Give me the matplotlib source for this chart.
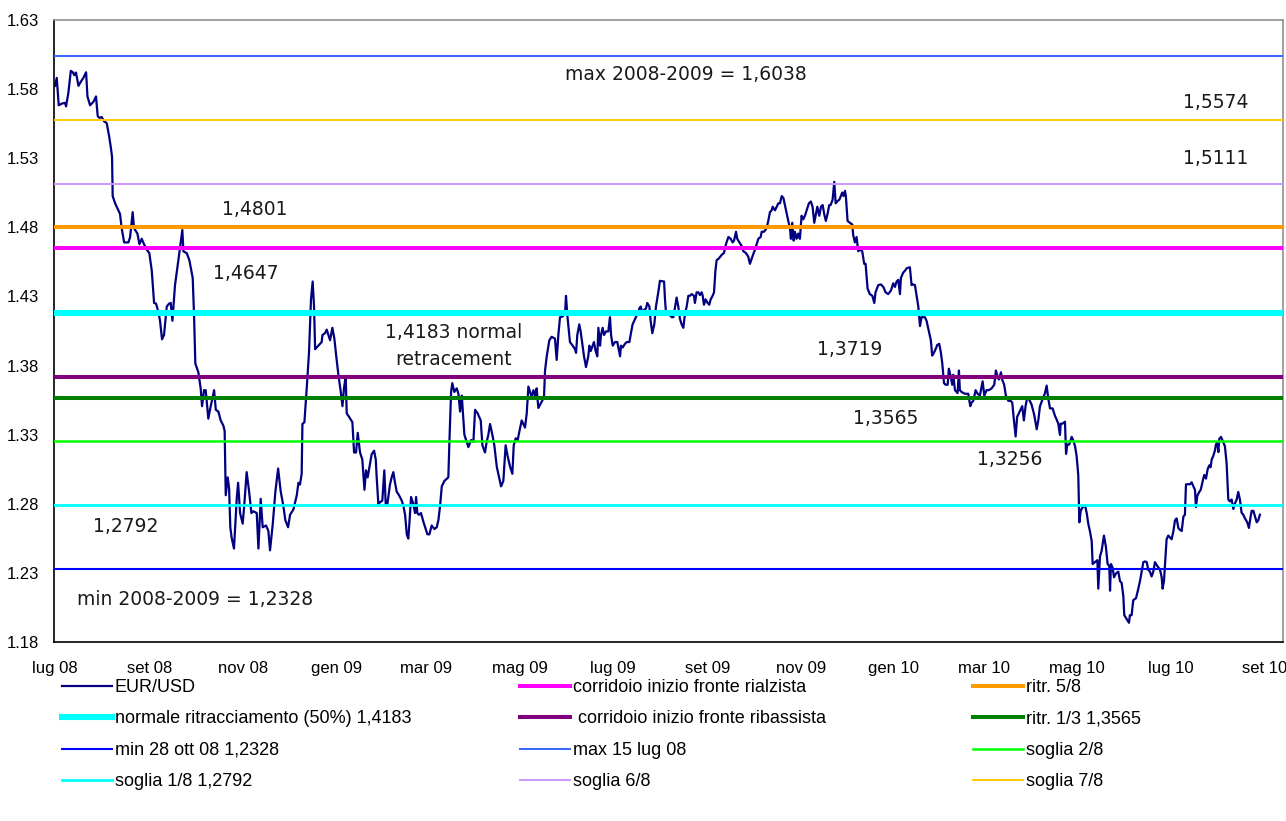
import matplotlib
matplotlib.use("Agg")
import matplotlib.pyplot as plt
import pandas as pd

START = pd.Timestamp("2008-07-01")

# EUR/USD: days after START and exchange rate
DAYS = [
    0.0, 1.1, 2.4, 4.4, 6.5, 7.2, 8.7, 10.3, 11.6, 12.6,
    13.7, 15.3, 17.4, 18.5, 20.3, 21.2, 22.9, 25.1, 26.8, 27.9,
    29.0, 30.5, 32.1, 33.8, 35.3, 36.4, 37.3, 37.7, 39.3, 41.4,
    42.5, 43.6, 45.2, 48.0, 49.1, 49.7, 50.8, 51.7, 53.9, 55.2,
    56.7, 58.2, 60.0, 61.7, 63.3, 64.8, 66.1, 67.6, 68.7, 70.0,
    71.3, 72.0, 73.1, 74.6, 75.7, 76.8, 78.5, 80.7, 82.2, 83.3,
    84.0, 86.2, 87.9, 90.1, 91.0, 91.8, 93.8, 95.3, 96.2, 97.5,
    98.6, 100.3, 101.4, 102.9, 104.1, 105.2, 106.9, 108.4, 110.2, 111.0,
    111.7, 113.0, 113.9, 114.7, 115.6, 117.1, 118.9, 119.8, 121.1, 122.8,
    123.7, 125.4, 127.0, 128.5, 129.8, 132.0, 133.1, 134.6, 135.9, 138.1,
    139.6, 140.7, 142.5, 144.2, 146.0, 147.7, 149.4, 150.7, 152.5, 153.8,
    156.0,
    158.2, 159.3, 160.3, 161.4, 161.9, 163.2, 164.7, 166.2, 167.5, 168.6,
    169.5, 170.2, 172.3, 174.5, 175.0, 176.7, 177.8, 178.9, 180.0, 181.5,
    182.8, 184.3, 185.4, 187.0, 188.1, 189.1, 190.2, 190.9, 192.4, 194.6,
    195.7, 197.0, 198.1, 199.6, 201.1, 202.5, 203.5, 204.6, 206.2, 207.2,
    208.8, 209.9, 210.5, 211.6, 212.7, 214.2, 215.5, 216.4, 217.5, 219.2,
    220.3, 221.4, 222.5, 223.6, 225.1, 226.9, 228.0, 229.1, 230.2, 231.2,
    231.9, 233.0, 234.5, 235.6, 236.3, 237.1, 238.2, 239.5, 241.1, 242.6,
    243.7, 245.0, 246.5, 248.3, 249.8, 250.9, 252.0, 253.1, 254.8, 257.4,
    258.1, 259.2, 260.0, 261.3, 262.9, 264.0, 265.1, 266.2, 267.9, 269.4,
    270.5, 272.3, 273.8, 274.9, 276.6, 278.6, 279.7, 281.4, 282.5, 283.6,
    284.7, 286.2, 287.5, 289.1, 290.6, 291.9, 293.4, 294.9, 296.2, 297.8,
    299.3, 300.2, 301.5, 302.8, 303.7, 305.4, 306.5, 307.6, 308.7, 309.8,
    310.9, 312.0, 313.1, 314.2, 315.2, 316.3,
    320.0, 320.7, 321.8, 323.5, 325.0, 327.2, 328.3, 329.4, 330.5, 332.2,
    333.8, 334.4, 335.3, 337.0, 338.8, 340.3, 341.0, 341.8, 343.1, 344.0,
    345.3, 346.2, 347.5, 349.0, 349.7, 350.6, 351.9, 352.7, 353.8, 354.9,
    355.6, 356.7, 357.3, 358.4, 359.3, 360.6, 362.1, 363.2, 363.9, 365.0,
    366.5, 368.0, 369.8, 370.4, 371.5, 373.0, 374.1, 375.9, 376.7, 378.0,
    379.1, 380.7, 381.8, 382.4, 383.3, 384.6, 385.5, 386.8, 387.6, 389.0,
    389.8, 390.9, 392.2, 393.3, 394.8, 395.9, 398.6, 399.2, 399.9, 401.4,
    402.5, 403.6, 404.7, 405.8, 406.8, 407.9, 409.0, 410.1, 411.2, 412.3,
    413.4, 414.5, 415.6, 416.7, 418.2, 418.8, 419.9, 421.0, 422.1, 423.2,
    423.9, 424.7, 425.8, 427.1, 428.2, 429.1, 430.4, 431.3, 432.2, 433.0,
    434.5, 436.3, 437.8, 439.1, 440.7, 442.2, 443.5, 444.4, 445.7, 446.5,
    447.9, 449.4, 450.5, 452.2, 453.7, 454.8, 456.4, 458.1, 459.2, 460.3,
    461.8, 462.5, 464.0, 465.7, 466.8, 467.9, 469.0, 469.7, 471.2, 472.3,
    473.4, 474.5, 475.6, 476.7,
    479.9, 481.0, 481.6, 482.5, 483.4, 484.2, 485.3, 486.4, 487.5, 488.6,
    489.7, 490.8, 491.9, 493.4, 494.7, 495.8, 496.9, 498.0, 498.9, 500.2,
    501.3, 502.4, 503.4, 504.5, 505.6, 506.7, 507.6, 508.9, 510.0, 510.9,
    511.9, 513.3, 514.3, 515.2, 516.1, 517.0, 517.6, 518.7, 520.2, 521.8,
    522.4, 523.5, 524.6, 525.7, 526.8, 528.3, 529.6, 530.5, 531.8, 533.3,
    534.9, 536.2, 537.0, 538.8, 540.5, 542.1, 543.6, 545.3, 547.1, 548.6,
    549.7, 550.8, 551.9, 553.0, 553.6, 555.1, 556.2, 557.5, 559.5, 560.6,
    561.7, 562.8, 563.9, 565.0, 566.1, 567.1, 569.3, 570.4, 571.9, 573.2,
    574.1, 575.2, 576.3, 577.4, 578.7, 579.8, 580.7, 581.8, 582.9, 584.2,
    585.0, 586.1, 587.2, 587.9, 589.0, 590.7, 591.6, 592.2, 593.3, 595.5,
    597.7, 599.0, 599.9, 601.0, 602.5, 603.8, 605.3, 607.1, 608.2, 609.7,
    611.2, 613.0, 614.7, 615.8, 616.7, 617.7, 619.1, 619.9, 621.2, 622.3,
    623.9, 625.4, 626.5, 627.6, 628.7, 629.7, 630.8, 631.9, 633.0, 634.1,
    635.2, 636.3, 637.4, 639.1, 640.9,
    642.5, 643.6, 644.6, 646.4, 647.9, 649.0, 650.1, 651.2, 652.9, 654.5,
    655.6, 656.6, 657.7, 658.2, 659.5, 661.0, 661.7, 662.5, 663.8, 665.4,
    666.5, 667.6, 668.6, 669.7, 670.4, 671.3, 672.6, 674.1, 675.2, 676.3,
    677.4, 678.5, 679.1, 680.6, 682.2, 682.8, 683.9, 685.0, 686.5, 687.8,
    688.9, 690.0, 690.5, 691.1, 692.2, 693.1, 694.4, 695.9, 697.0, 698.1,
    699.2, 699.8, 701.4, 702.9, 703.5, 704.6, 705.7, 707.5, 709.0, 710.1,
    711.2, 712.3, 713.4, 714.5, 715.5, 716.6, 717.7, 718.8, 719.9, 721.4,
    723.2, 724.3, 724.9, 725.8, 726.5, 727.5, 728.6, 729.7, 730.8, 731.9,
    733.0, 734.1, 735.2, 736.3, 737.4, 738.5, 739.5, 740.2, 741.7, 742.8,
    743.9, 745.0, 746.1, 746.7, 747.6, 748.9, 749.8, 750.4, 751.5, 752.2,
    753.3, 754.4, 755.5, 756.3, 757.0, 758.1, 759.2, 759.8, 760.7, 761.4,
    762.0, 763.1, 764.2, 765.7, 766.8, 767.9, 769.0, 770.1, 771.2, 772.3,
    773.4, 774.4, 775.5, 776.6, 777.7, 778.8, 780.3, 781.4, 782.5, 783.2,
    784.3, 785.4, 786.5, 787.5, 788.6,
]
EURUSD = [
    1.5824, 1.5881, 1.5683, 1.5695, 1.5701, 1.5675, 1.5773, 1.5932, 1.5922, 1.5901,
    1.5920, 1.5824, 1.5863, 1.5881, 1.5922, 1.5747, 1.5683, 1.5708, 1.5747, 1.5605,
    1.5592, 1.5598, 1.5567, 1.5554, 1.5464, 1.5386, 1.5309, 1.5026, 1.4974, 1.4923,
    1.4897, 1.4794, 1.4691, 1.4691, 1.4729, 1.4794, 1.4910, 1.4794, 1.4755, 1.4678,
    1.4717, 1.4678, 1.4639, 1.4613, 1.4485, 1.4253, 1.4248, 1.4189, 1.4124, 1.3990,
    1.4021, 1.4098, 1.4227, 1.4248, 1.4253, 1.4124, 1.4382, 1.4562, 1.4691, 1.4781,
    1.4626, 1.4613, 1.4562, 1.4433, 1.4150, 1.3815, 1.3751, 1.3635, 1.3506, 1.3622,
    1.3622, 1.3416, 1.3480, 1.3557, 1.3622, 1.3480, 1.3467, 1.3403, 1.3364, 1.3325,
    1.2862, 1.2991, 1.2913, 1.2630, 1.2553, 1.2476, 1.2836, 1.2952, 1.2733, 1.2656,
    1.2772, 1.3029, 1.2888, 1.2733, 1.2746, 1.2733, 1.2476, 1.2836, 1.2630, 1.2643,
    1.2604, 1.2463, 1.2656, 1.2888, 1.3055, 1.2888, 1.2785, 1.2682, 1.2630, 1.2720,
    1.2759,
    1.2862, 1.2952, 1.2939, 1.3017, 1.3377, 1.3390, 1.3635, 1.3892, 1.4279, 1.4408,
    1.4227, 1.3918, 1.3944, 1.3970, 1.4021, 1.4034, 1.4060, 1.4021, 1.3983, 1.4073,
    1.3995, 1.3841, 1.3738, 1.3609, 1.3506, 1.3635, 1.3725, 1.3454, 1.3429, 1.3390,
    1.3171, 1.3171, 1.3313, 1.3171, 1.3120, 1.2901, 1.3042, 1.2991, 1.3094, 1.3158,
    1.3184, 1.3120, 1.2991, 1.2798, 1.2811, 1.2823, 1.3042, 1.2798, 1.2798, 1.2939,
    1.2991, 1.3029, 1.2952, 1.2888, 1.2862, 1.2823, 1.2785, 1.2720, 1.2579, 1.2548,
    1.2656, 1.2849, 1.2798, 1.2733, 1.2849, 1.2733, 1.2720, 1.2733, 1.2669, 1.2617,
    1.2579, 1.2579, 1.2643, 1.2617, 1.2630, 1.2682, 1.2785, 1.2926, 1.2965, 1.2991,
    1.3248, 1.3609, 1.3673, 1.3609, 1.3635, 1.3596, 1.3467, 1.3583, 1.3300, 1.3248,
    1.3210, 1.3261, 1.3248, 1.3480, 1.3454, 1.3403, 1.3223, 1.3171, 1.3248, 1.3300,
    1.3377, 1.3300, 1.3223, 1.3068, 1.2991, 1.2926, 1.2965, 1.3223, 1.3145, 1.3068,
    1.3017, 1.3223, 1.3274, 1.3261, 1.3313, 1.3403, 1.3377, 1.3351, 1.3454, 1.3648,
    1.3609, 1.3570, 1.3622, 1.3583, 1.3635, 1.3493,
    1.3570, 1.3764, 1.3867, 1.3983, 1.4008, 1.3995, 1.3841, 1.4021, 1.4150, 1.4155,
    1.4176, 1.4304, 1.4163, 1.3970, 1.3944, 1.3918, 1.3892, 1.4021, 1.4098, 1.4047,
    1.3944, 1.3867, 1.3789, 1.3867, 1.3944, 1.3905, 1.3944, 1.3970, 1.3905, 1.3867,
    1.4073, 1.3944, 1.4021, 1.4073, 1.4021, 1.4047, 1.4047, 1.4150, 1.4021, 1.3944,
    1.3970, 1.3970, 1.3867, 1.3944, 1.3931, 1.3957, 1.3970, 1.3970, 1.4021, 1.4098,
    1.4124, 1.4163, 1.4176, 1.4214, 1.4227, 1.4176, 1.4202, 1.4214, 1.4253, 1.4227,
    1.4124, 1.4034, 1.4098, 1.4227, 1.4330, 1.4413, 1.4408, 1.4279, 1.4176, 1.4176,
    1.4163, 1.4150, 1.4150, 1.4227, 1.4292, 1.4227, 1.4137, 1.4098, 1.4073, 1.4176,
    1.4227, 1.4305, 1.4305, 1.4317, 1.4305, 1.4253, 1.4330, 1.4330, 1.4310, 1.4330,
    1.4305, 1.4240, 1.4279, 1.4253, 1.4240, 1.4279, 1.4305, 1.4330, 1.4485, 1.4562,
    1.4575, 1.4601, 1.4614, 1.4678, 1.4730, 1.4717, 1.4691, 1.4704, 1.4768, 1.4717,
    1.4691, 1.4665, 1.4627, 1.4614, 1.4588, 1.4536, 1.4588, 1.4639, 1.4678, 1.4717,
    1.4730, 1.4768, 1.4768, 1.4794, 1.4846, 1.4910, 1.4923, 1.4949, 1.4923, 1.4949,
    1.4974, 1.4974, 1.5026, 1.5013,
    1.4846, 1.4794, 1.4717, 1.4833, 1.4704, 1.4768, 1.4717, 1.4755, 1.4717, 1.4884,
    1.4858, 1.4884, 1.4923, 1.4974, 1.4987, 1.4949, 1.4833, 1.4897, 1.4949, 1.4884,
    1.4949, 1.4961, 1.4897, 1.4846, 1.4897, 1.4961, 1.4961, 1.5000, 1.5129, 1.4974,
    1.4987, 1.5000, 1.5026, 1.5052, 1.5026, 1.5064, 1.5026, 1.4846, 1.4833, 1.4820,
    1.4743, 1.4691, 1.4730, 1.4627, 1.4639, 1.4627, 1.4536, 1.4536, 1.4356, 1.4317,
    1.4305, 1.4253, 1.4330, 1.4382, 1.4387, 1.4369, 1.4330, 1.4317, 1.4343, 1.4395,
    1.4369, 1.4408, 1.4420, 1.4317, 1.4433, 1.4472, 1.4485, 1.4505, 1.4511, 1.4382,
    1.4387, 1.4382, 1.4305, 1.4227, 1.4086, 1.4150, 1.4150, 1.4124, 1.4047, 1.3983,
    1.3872, 1.3892, 1.3918, 1.3949, 1.3957, 1.3892, 1.3815, 1.3673, 1.3661, 1.3661,
    1.3777, 1.3725, 1.3661, 1.3733, 1.3622, 1.3601, 1.3764, 1.3622, 1.3609, 1.3596,
    1.3596, 1.3506, 1.3532, 1.3545, 1.3622, 1.3596, 1.3583, 1.3686, 1.3583, 1.3622,
    1.3622, 1.3635, 1.3661, 1.3764, 1.3725, 1.3699, 1.3751, 1.3699, 1.3661, 1.3583,
    1.3545, 1.3545, 1.3532, 1.3403, 1.3287, 1.3429, 1.3454, 1.3480, 1.3506, 1.3403,
    1.3506, 1.3570, 1.3558, 1.3519, 1.3442,
    1.3339, 1.3408, 1.3504, 1.3559, 1.3600, 1.3655, 1.3559, 1.3490, 1.3490, 1.3435,
    1.3408, 1.3380, 1.3298, 1.3380, 1.3380, 1.3394, 1.3161, 1.3229, 1.3229, 1.3284,
    1.3257, 1.3215, 1.3147, 1.3009, 1.2666, 1.2749, 1.2776, 1.2790, 1.2735, 1.2653,
    1.2598, 1.2529, 1.2364, 1.2378, 1.2392, 1.2186, 1.2419, 1.2460, 1.2570, 1.2488,
    1.2364, 1.2350, 1.2171, 1.2364, 1.2337, 1.2268, 1.2296, 1.2309, 1.2241, 1.2227,
    1.2131, 1.1994, 1.1966, 1.1939, 1.1994, 1.1994, 1.2103, 1.2117, 1.2186, 1.2241,
    1.2309, 1.2378, 1.2383, 1.2378, 1.2323, 1.2309, 1.2274, 1.2309, 1.2378, 1.2350,
    1.2323, 1.2268, 1.2186, 1.2241, 1.2364, 1.2543, 1.2570, 1.2556, 1.2543, 1.2598,
    1.2680, 1.2694, 1.2625, 1.2611, 1.2603, 1.2707, 1.2721, 1.2941, 1.2941, 1.2941,
    1.2955, 1.2927, 1.2900, 1.2776, 1.2858, 1.2886, 1.2900, 1.2927, 1.2982, 1.3009,
    1.2982, 1.3051, 1.3078, 1.3064, 1.3119, 1.3147, 1.3188, 1.3229, 1.3243, 1.3174,
    1.3270, 1.3284, 1.3257, 1.3215, 1.3092, 1.2831, 1.2817, 1.2831, 1.2762, 1.2804,
    1.2831, 1.2886, 1.2831, 1.2735, 1.2721, 1.2694, 1.2666, 1.2625, 1.2707, 1.2749,
    1.2749, 1.2707, 1.2666, 1.2680, 1.2721,
]
assert len(DAYS) == len(EURUSD)

# horizontal reference levels
LEVEL_NAMES = [
    "corridoio inizio fronte rialzista", "ritr. 5/8",
    "normale ritracciamento (50%) 1,4183", " corridoio inizio fronte ribassista",
    "ritr. 1/3 1,3565", "min 28 ott 08 1,2328", "max 15 lug 08", "soglia 2/8",
    "soglia 1/8 1,2792", "soglia 6/8", "soglia 7/8",
]
LEVEL_VALUES = [1.4647, 1.4801, 1.4183, 1.3719, 1.3565, 1.2328, 1.6038, 1.3256,
                1.2792, 1.5111, 1.5574]
LEVEL_COLORS = ["#ff00ff", "#ff9900", "#00ffff", "#800080", "#008000", "#0000ff",
                "#3366ff", "#00ff00", "#00ffff", "#cc99ff", "#ffcc00"]
LEVEL_WIDTHS = [2.9, 2.9, 4.4, 2.9, 2.9, 1.5, 1.4, 1.8, 2.0, 1.4, 1.4]

TICK_LABELS = ["lug 08", "set 08", "nov 08", "gen 09", "mar 09", "mag 09", "lug 09",
               "set 09", "nov 09", "gen 10", "mar 10", "mag 10", "lug 10", "set 10"]
Y_TICKS = [1.18, 1.23, 1.28, 1.33, 1.38, 1.43, 1.48, 1.53, 1.58, 1.63]

NOTES = ["max 2008-2009 = 1,6038", "1,5574", "1,5111", "1,4801", "1,4647",
         "1,4183 normal\nretracement", "1,3719", "1,3565", "1,3256", "1,2792",
         "min 2008-2009 = 1,2328"]
# text anchor in axes fraction (x, y, ha)
NOTE_POS = [(0.416, 0.913, "left"), (0.919, 0.868, "left"), (0.919, 0.777, "left"),
            (0.137, 0.695, "left"), (0.129, 0.593, "left"), (0.325, 0.476, "center"),
            (0.621, 0.471, "left"), (0.650, 0.359, "left"), (0.751, 0.293, "left"),
            (0.032, 0.185, "left"), (0.019, 0.069, "left")]

SANS = "Liberation Sans"

fig = plt.figure(figsize=(12.86, 8.21), dpi=100)
ax = fig.add_axes([54 / 1286, 1 - 642 / 821, 1229 / 1286, 622 / 821])

dates = START + pd.to_timedelta(DAYS, unit="D")
series = ax.plot(dates, EURUSD, color="#000080", lw=1.6, label="EUR/USD", zorder=2)[0]
handles = {"EUR/USD": series}
for name, value, color, lw in zip(LEVEL_NAMES, LEVEL_VALUES, LEVEL_COLORS, LEVEL_WIDTHS):
    handles[name] = ax.axhline(value, color=color, lw=lw, label=name, zorder=3)

ax.set_xlim(START - pd.Timedelta(days=0.7), START + pd.Timedelta(days=803.7))
ax.set_ylim(Y_TICKS[0], Y_TICKS[-1])
ax.set_yticks(Y_TICKS)
ax.set_yticklabels([f"{v:.2f}" for v in Y_TICKS], family=SANS, fontsize=12)
ax.set_xticks(pd.date_range(START, periods=len(TICK_LABELS), freq="2MS"))
ax.set_xticklabels(TICK_LABELS, family=SANS, fontsize=12)
ax.tick_params(axis="y", length=0, pad=11)
ax.tick_params(axis="x", length=0, pad=14)
for side in ("left", "bottom"):
    ax.spines[side].set_color("black")
    ax.spines[side].set_linewidth(1.2)
for side in ("top", "right"):
    ax.spines[side].set_color("#909090")
    ax.spines[side].set_linewidth(1.2)

for text, (x, y, ha) in zip(NOTES, NOTE_POS):
    ax.text(x, y, text, transform=ax.transAxes, ha=ha, va="center", fontsize=13.5,
            color="#1a1a1a", family="DejaVu Sans", linespacing=1.55, zorder=5)

columns = [
    ["EUR/USD", "normale ritracciamento (50%) 1,4183", "min 28 ott 08 1,2328",
     "soglia 1/8 1,2792"],
    ["corridoio inizio fronte rialzista", " corridoio inizio fronte ribassista",
     "max 15 lug 08", "soglia 6/8"],
    ["ritr. 5/8", "ritr. 1/3 1,3565", "soglia 2/8", "soglia 7/8"],
]
for names, x0 in zip(columns, [62 / 1286, 520 / 1286, 973 / 1286]):
    fig.legend([handles[n] for n in names], names, loc="upper left",
               bbox_to_anchor=(x0, 1 - 679 / 821), frameon=False, borderpad=0,
               borderaxespad=0, handlelength=2.75, handletextpad=0.17,
               labelspacing=0.8, prop={"family": SANS, "size": 13})

fig.savefig("out.png", dpi=100)
